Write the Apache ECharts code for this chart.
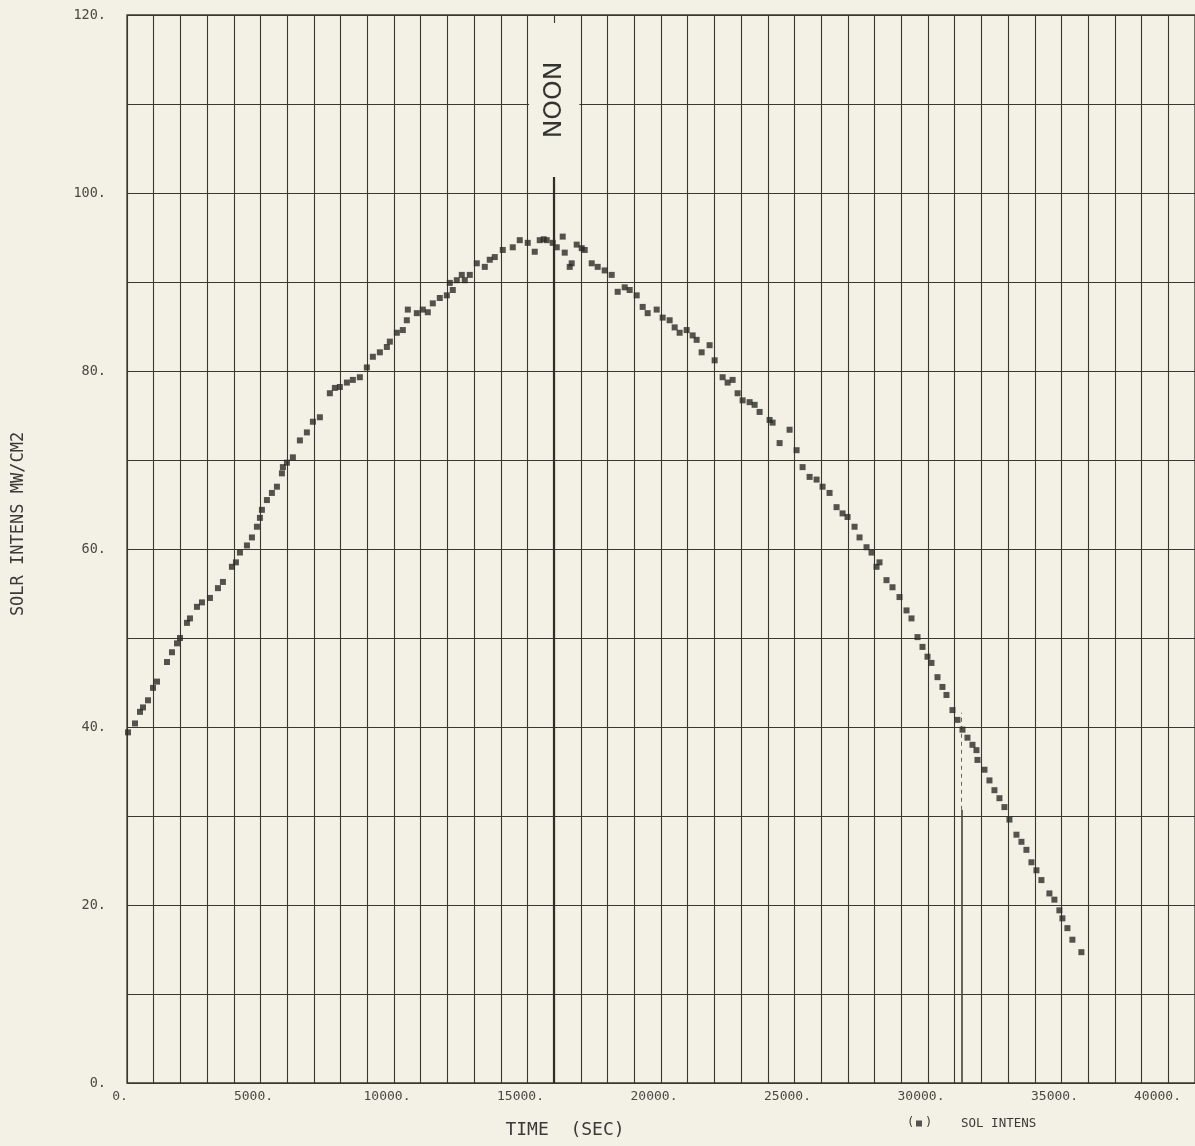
<!DOCTYPE html>
<html>
<head>
<meta charset="utf-8">
<script src="https://cdn.jsdelivr.net/npm/echarts@6/dist/echarts.min.js"></script>
<style>
html,body{margin:0;padding:0;background:#f3f1e5;}
#chart{width:1195px;height:1146px;}
</style>
</head>
<body>
<div id="chart"></div>
<script>
// ---- data ----
const timeSec = [37,300,487,599,786,973,1123,1497,1684,1872,1984,2246,2358,2620,2807,3107,3406,3593,3930,4080,4230,4492,4679,4866,4978,5053,5240,5427,5615,5802,5839,5989,6213,6475,6737,6962,7224,7598,7785,7972,8235,8459,8721,8983,9208,9470,9732,9844,10106,10331,10480,10518,10855,11079,11266,11453,11715,11978,12090,12202,12352,12539,12651,12838,13100,13400,13587,13774,14074,14448,14710,15009,15271,15458,15608,15720,15945,16095,16319,16394,16581,16656,16843,17030,17143,17405,17629,17891,18153,18378,18640,18827,19089,19314,19501,19838,20062,20324,20511,20698,20961,21185,21335,21522,21821,22009,22308,22495,22682,22869,23057,23319,23506,23693,24067,24180,24442,24816,25078,25303,25565,25827,26051,26313,26575,26800,26987,27249,27436,27698,27885,28072,28184,28446,28671,28933,29195,29382,29607,29794,29981,30131,30355,30542,30692,30917,31104,31291,31478,31666,31815,31853,32115,32302,32489,32676,32863,33050,33313,33500,33687,33874,34061,34248,34547,34734,34921,35034,35221,35408,35745];
const solIntens = [39.4,40.4,41.7,42.2,43.0,44.4,45.1,47.3,48.4,49.4,50.0,51.7,52.2,53.5,54.0,54.5,55.6,56.3,58.0,58.5,59.6,60.4,61.3,62.5,63.5,64.4,65.5,66.3,67.0,68.5,69.2,69.7,70.3,72.2,73.1,74.3,74.8,77.5,78.1,78.2,78.7,79.0,79.3,80.4,81.6,82.1,82.7,83.3,84.3,84.6,85.7,86.9,86.5,86.9,86.6,87.6,88.2,88.5,89.9,89.1,90.2,90.8,90.2,90.8,92.1,91.7,92.5,92.8,93.6,93.9,94.7,94.4,93.4,94.7,94.8,94.7,94.4,93.9,95.1,93.3,91.7,92.1,94.2,93.8,93.6,92.1,91.7,91.3,90.8,88.9,89.4,89.1,88.5,87.2,86.5,86.9,86.0,85.7,84.9,84.3,84.6,84.0,83.5,82.1,82.9,81.2,79.3,78.7,79.0,77.5,76.7,76.5,76.2,75.4,74.5,74.2,71.9,73.4,71.1,69.2,68.1,67.8,67.0,66.3,64.7,64.0,63.6,62.5,61.3,60.2,59.6,58.0,58.5,56.5,55.7,54.6,53.1,52.2,50.1,49.0,47.9,47.2,45.6,44.5,43.6,41.9,40.8,39.7,38.8,38.0,37.4,36.3,35.2,34.0,32.9,32.0,31.0,29.6,27.9,27.1,26.2,24.8,23.9,22.8,21.3,20.6,19.4,18.5,17.4,16.1,14.7];
const noonTime = 16000;
const noonLineTop = 101.8;
const markerTime = 31250;
const markerSolidTop = 30.7;
const markerDashTop = 41.6;
const xTickStep = 5000;
const yTickStep = 20;

const paper = '#f3f1e5';
const ink = '#38382f';
const mono = '"DejaVu Sans Mono", "Liberation Mono", monospace';

const chart = echarts.init(document.getElementById('chart'), null, {renderer:'canvas'});
chart.setOption({
  backgroundColor: paper,
  animation: false,
  grid: {left:127, right:0, top:15, bottom:63, show:true, borderColor:ink, borderWidth:1.3, backgroundColor:'transparent'},
  xAxis: {
    type:'value', min:0, max:40000, interval:1000,
    axisLine:{show:false}, axisTick:{show:false},
    splitLine:{show:true, lineStyle:{color:ink, width:1.1}},
    axisLabel:{
      color:'#4a4a44', fontFamily:mono, fontSize:13, margin:7,
      padding:[0,14,0,0], alignMaxLabel:'right',
      formatter: v => (v % xTickStep === 0) ? (v + '.') : ''
    },
    name:'TIME  (SEC)', nameLocation:'middle', nameGap:38,
    nameTextStyle:{color:'#3a3a36', fontFamily:mono, fontSize:18, padding:[0,192,0,0]}
  },
  yAxis: {
    type:'value', min:0, max:120, interval:10,
    axisLine:{show:false}, axisTick:{show:false},
    splitLine:{show:true, lineStyle:{color:ink, width:1.1}},
    axisLabel:{
      color:'#4a4a44', fontFamily:mono, fontSize:13.5, margin:21,
      formatter: v => (v % yTickStep === 0) ? (v + '.') : ''
    },
    name:'SOLR INTENS MW/CM2', nameLocation:'middle', nameGap:100,
    nameTextStyle:{color:'#3a3a36', fontFamily:mono, fontSize:17, padding:[0,0,0,50]}
  },
  legend: {
    data:['SOL INTENS'], left:916, top:1117, padding:0, icon:'rect', itemWidth:6, itemHeight:6,
    textStyle:{color:'#3a3a36', fontFamily:mono, fontSize:12.5, padding:[0,0,0,34]}
  },
  graphic: [
    {type:'text', left:907, top:1117, style:{text:'(', font:'12px ' + mono, fill:'#3a3a36'}},
    {type:'text', left:925, top:1117, style:{text:')', font:'12px ' + mono, fill:'#3a3a36'}}
  ],
  series: [
    {
      name:'SOL INTENS', type:'scatter', symbol:'rect', symbolSize:6,
      itemStyle:{color:'#2a2a26'}, z:5,
      data: timeSec.map((t,i)=>[t, solIntens[i]]),
      markArea: {
        silent:true,
        itemStyle:{color:paper},
        label:{show:true, position:'inside', formatter:'NOON', rotate:90,
               color:'#333330', fontFamily:'"DejaVu Sans", sans-serif', fontSize:25},
        data:[[{xAxis:15060, yAxis:noonLineTop}, {xAxis:16940, yAxis:119.1}]]
      },
      markLine: {
        silent:true, symbol:'none', label:{show:false},
        data:[
          [{coord:[noonTime,0], lineStyle:{color:'#2f2f2a', width:2.2, type:'solid'}}, {coord:[noonTime,noonLineTop]}],
          [{coord:[markerTime,0], lineStyle:{color:'#44443d', width:1.6, type:'solid'}}, {coord:[markerTime,markerSolidTop]}],
          [{coord:[markerTime,markerSolidTop], lineStyle:{color:'#66665e', width:1, type:[4,4]}}, {coord:[markerTime,markerDashTop]}]
        ]
      }
    }
  ]
});
</script>
</body>
</html>
